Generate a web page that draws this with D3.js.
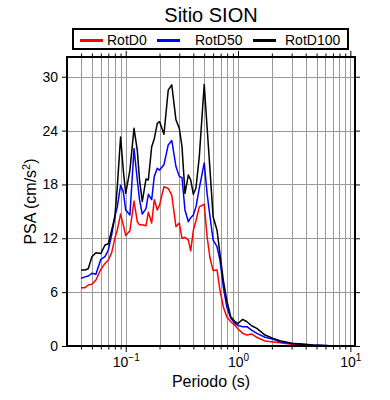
<!DOCTYPE html>
<html>
<head>
<meta charset="utf-8">
<script src="https://cdn.jsdelivr.net/npm/d3@7"></script>
<style>
  body { margin: 0; background: #fff; }
  svg { font-family: "Liberation Sans", Arial, Helvetica, sans-serif; }
  .grid line { stroke: #9a9a9a; stroke-width: 1; shape-rendering: crispEdges; }
  .axis path { display: none; }
  .axis line { stroke: #000; stroke-width: 1; }
  .axis text { font-size: 14px; fill: #000; }
</style>
</head>
<body>
<div class="chart"></div>
<script>

////////// DATA //////////

var periods = [0.040, 0.0434, 0.0464, 0.050, 0.0543, 0.060, 0.0654, 0.070, 0.075, 0.080,
  0.0841, 0.090, 0.0951, 0.100, 0.109, 0.1185, 0.1268, 0.1327, 0.1404, 0.1515,
  0.159, 0.1703, 0.1796, 0.191, 0.200, 0.219, 0.239, 0.257, 0.280, 0.300,
  0.317, 0.337, 0.361, 0.379, 0.400, 0.422, 0.452, 0.500, 0.530, 0.563,
  0.600, 0.650, 0.690, 0.739, 0.793, 0.861, 0.940, 1.00, 1.10, 1.20,
  1.32, 1.47, 1.74, 2.06, 2.36, 3.00, 4.65, 6.60, 10.0];

var rotD0 = [6.5, 6.5, 6.8, 6.87, 7.35, 8.54, 9.2, 9.58, 10.4, 12.0,
  12.9, 14.7, 13.5, 12.3, 12.85, 16.15, 13.85, 13.5, 13.5, 13.4,
  14.9, 13.7, 16.3, 15.15, 15.7, 17.75, 17.55, 16.8, 13.3, 13.7,
  12.0, 12.1, 11.8, 10.6, 12.9, 13.95, 15.5, 15.8, 12.2, 9.8,
  8.4, 8.47, 6.24, 4.38, 3.26, 2.7, 2.3, 1.9, 1.41, 1.22,
  1.34, 0.97, 0.55, 0.45, 0.35, 0.2, 0.05, 0.02, 0.01];

var rotD50 = [7.54, 7.7, 7.8, 8.1, 8.0, 9.66, 9.95, 10.7, 12.4, 14.4,
  15.5, 17.9, 17.2, 15.15, 14.6, 22.0, 18.5, 16.3, 14.7, 15.3,
  16.9, 16.3, 18.9, 19.8, 19.6, 20.2, 22.4, 22.9, 20.0, 18.9,
  18.75, 15.15, 13.85, 14.3, 14.6, 15.5, 17.6, 20.4, 17.0, 14.4,
  11.8, 11.06, 9.58, 6.6, 4.38, 3.08, 2.53, 2.3, 2.15, 2.15,
  1.78, 1.41, 0.97, 0.75, 0.48, 0.28, 0.1, 0.03, 0.01];

var rotD100 = [8.47, 8.47, 8.6, 9.95, 10.4, 10.3, 11.25, 11.4, 12.9, 14.4,
  17.7, 23.3, 19.6, 17.0, 19.6, 24.25, 21.8, 18.5, 16.1, 18.6,
  18.5, 22.2, 23.1, 24.8, 25.0, 23.6, 28.5, 29.1, 25.2, 24.25,
  22.2, 17.0, 19.05, 18.5, 16.9, 17.6, 21.1, 29.15, 24.4, 19.6,
  14.4, 12.9, 10.3, 7.35, 5.1, 3.26, 2.7, 2.5, 2.97, 2.7,
  2.26, 1.97, 1.22, 0.85, 0.6, 0.3, 0.11, 0.04, 0.01];

var seriesNames = ["RotD0", "RotD50", "RotD100"];
var seriesColours = ["#ff0000", "#0000ff", "#000000"];
var seriesValues = [rotD0, rotD50, rotD100];

var yTicks = [0, 6, 12, 18, 24, 30];
var xMajor = [0.1, 1, 10];
var xMinor = [0.04, 0.05, 0.06, 0.07, 0.08, 0.09,
  0.2, 0.3, 0.4, 0.5, 0.6, 0.7, 0.8, 0.9,
  2, 3, 4, 5, 6, 7, 8, 9];
var xLabelExp = ["\u22121", "0", "1"];

var title = "Sitio SION";
var xTitle = "Periodo (s)";


////////// SETUP //////////

var totalWidth = 390, totalHeight = 400;
var margin = { top: 57, right: 35, bottom: 54, left: 67 };
var width = totalWidth - margin.left - margin.right;
var height = totalHeight - margin.top - margin.bottom;

var x = d3.scaleLog()
    .domain([0.03, 11])
    .range([0, width]);

var y = d3.scaleLinear()
    .domain([0, 32.2])
    .range([height, 0]);

var svg = d3.select(".chart")
  .append("svg")
    .attr("width", totalWidth)
    .attr("height", totalHeight);

var g = svg.append("g")
    .attr("transform", "translate(" + margin.left + "," + margin.top + ")");


////////// GRID //////////

var grid = g.append("g").attr("class", "grid");

grid.selectAll(".gx")
    .data(xMajor.concat(xMinor))
    .enter()
    .append("line")
    .attr("x1", function(d) { return Math.round(x(d)) + 0.5; })
    .attr("x2", function(d) { return Math.round(x(d)) + 0.5; })
    .attr("y1", 0)
    .attr("y2", height);

grid.selectAll(".gy")
    .data(yTicks)
    .enter()
    .append("line")
    .attr("x1", 0)
    .attr("x2", width)
    .attr("y1", function(d) { return Math.round(y(d)) + 0.5; })
    .attr("y2", function(d) { return Math.round(y(d)) + 0.5; });


////////// CURVES //////////

g.append("clipPath")
    .attr("id", "clip")
  .append("rect")
    .attr("width", width)
    .attr("height", height);

var line = d3.line()
    .x(function(d, i) { return x(periods[i]); })
    .y(function(d) { return y(d); });

g.append("g")
    .attr("clip-path", "url(#clip)")
  .selectAll("path")
    .data(seriesValues)
    .enter()
    .append("path")
    .attr("d", line)
    .attr("fill", "none")
    .attr("stroke", function(d, i) { return seriesColours[i]; })
    .attr("stroke-width", 1.5)
    .attr("stroke-linejoin", "round");


////////// AXES //////////

// major and minor log ticks, bottom and top
function logTicks(axisFn, translate, showLabels) {
  var major = g.append("g")
      .attr("class", "axis")
      .attr("transform", translate)
      .call(axisFn(x).tickValues(xMajor).tickSize(6).tickPadding(4)
        .tickFormat(function() { return ""; }));
  g.append("g")
      .attr("class", "axis")
      .attr("transform", translate)
      .call(axisFn(x).tickValues(xMinor).tickSize(3.5).tickFormat(function() { return ""; }));
  if (showLabels) {
    major.selectAll(".tick text")
        .attr("dy", null)
        .attr("y", 21)
        .each(function(d, i) {
          var t = d3.select(this);
          t.append("tspan").text("10");
          t.append("tspan")
              .attr("dy", -6)
              .style("font-size", "10px")
              .text(xLabelExp[i]);
        });
  }
}

logTicks(d3.axisBottom, "translate(0," + height + ")", true);
logTicks(d3.axisTop, "translate(0,0)", false);

g.append("g")
    .attr("class", "axis")
    .call(d3.axisLeft(y).tickValues(yTicks).tickSize(5).tickPadding(4));

g.append("g")
    .attr("class", "axis")
    .attr("transform", "translate(" + width + ",0)")
    .call(d3.axisRight(y).tickValues(yTicks).tickSize(5).tickFormat(function() { return ""; }));

// frame
g.append("rect")
    .attr("width", width)
    .attr("height", height)
    .attr("fill", "none")
    .attr("stroke", "#000")
    .attr("stroke-width", 2);


////////// TITLES //////////

svg.append("text")
    .attr("x", margin.left + width / 2)
    .attr("y", 22)
    .attr("text-anchor", "middle")
    .style("font-size", "20px")
    .text(title);

svg.append("text")
    .attr("x", margin.left + width / 2)
    .attr("y", 387)
    .attr("text-anchor", "middle")
    .style("font-size", "16px")
    .text(xTitle);

var yLab = svg.append("text")
    .attr("transform", "translate(36," + (margin.top + height / 2) + ") rotate(-90)")
    .attr("text-anchor", "middle")
    .style("font-size", "16px");
yLab.append("tspan").text("PSA (cm/s");
yLab.append("tspan").attr("dy", -6).style("font-size", "11px").text("2");
yLab.append("tspan").attr("dy", 6).text(")");


////////// LEGEND //////////

var legend = svg.append("g").attr("class", "legend");

legend.append("rect")
    .attr("x", 73)
    .attr("y", 29)
    .attr("width", 275)
    .attr("height", 20)
    .attr("fill", "#fff")
    .attr("stroke", "#000")
    .attr("stroke-width", 2);

var legendLineX = [80, 157, 253];
var legendTextX = [107, 195, 285];

var item = legend.selectAll(".item")
    .data(seriesNames)
    .enter()
    .append("g")
    .attr("class", "item");

item.append("line")
    .attr("x1", function(d, i) { return legendLineX[i]; })
    .attr("x2", function(d, i) { return legendLineX[i] + 23; })
    .attr("y1", 40.5)
    .attr("y2", 40.5)
    .attr("stroke", function(d, i) { return seriesColours[i]; })
    .attr("stroke-width", 3);

item.append("text")
    .attr("x", function(d, i) { return legendTextX[i]; })
    .attr("y", 45)
    .style("font-size", "14px")
    .text(function(d) { return d; });

</script>
</body>
</html>
